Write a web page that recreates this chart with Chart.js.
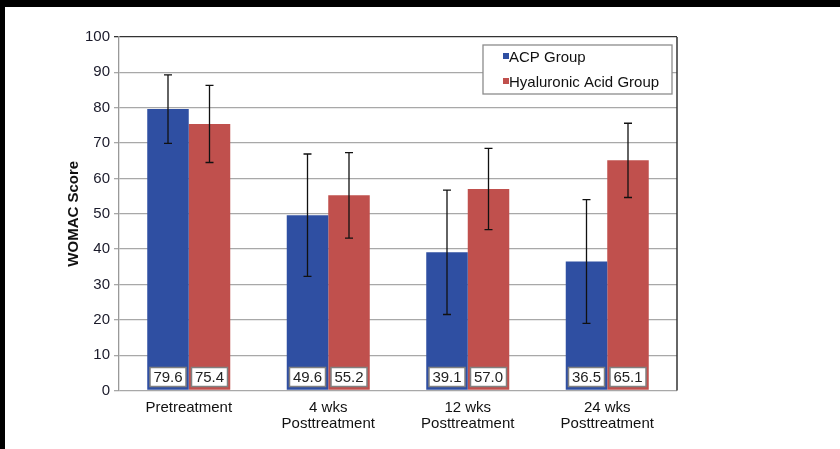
<!DOCTYPE html>
<html>
<head>
<meta charset="utf-8">
<script src="https://cdn.jsdelivr.net/npm/chart.js@4/dist/chart.umd.min.js"></script>
<style>
  html, body { margin: 0; padding: 0; background: #000; }
  #wrap { position: absolute; left: 5px; top: 7px; width: 835px; height: 442px; background: #fff; }
</style>
</head>
<body>
<div id="wrap"><canvas id="womac" width="835" height="442"></canvas></div>
<script>
// данные графика
const categories = ['Pretreatment', ['4 wks', 'Posttreatment'], ['12 wks', 'Posttreatment'], ['24 wks', 'Posttreatment']];
const seriesNames = ['ACP Group', 'Hyaluronic Acid Group'];
const acpScores = [79.6, 49.6, 39.1, 36.5];
const haScores = [75.4, 55.2, 57.0, 65.1];
const acpSd = [9.7, 17.3, 17.6, 17.5]; // разброс (усы)
const haSd = [10.9, 12.1, 11.5, 10.5];
const yTicks = [0, 10, 20, 30, 40, 50, 60, 70, 80, 90, 100];

const colBlue = '#2f4fa2';
const colRed = '#c0504d';
const fontFam = '"Liberation Sans", Arial, sans-serif';

/** усы, подписи в рамках, легенда и правая рамка */
const extras = {
  id: 'extras',
  afterDatasetsDraw(chart) {
    const { ctx, chartArea, scales } = chart;
    const sds = [acpSd, haSd];
    ctx.save();
    // правая линия рамки
    ctx.strokeStyle = '#333';
    ctx.lineWidth = 1.5;
    ctx.beginPath();
    ctx.moveTo(chartArea.right, chartArea.top);
    ctx.lineTo(chartArea.right, chartArea.bottom);
    ctx.stroke();

    chart.data.datasets.forEach((ds, i) => {
      const meta = chart.getDatasetMeta(i);
      meta.data.forEach((bar, j) => {
        const v = ds.data[j];
        const sd = sds[i][j];
        const yTop = scales.y.getPixelForValue(v + sd);
        const yBot = scales.y.getPixelForValue(v - sd);
        ctx.strokeStyle = '#111';
        ctx.lineWidth = 1.3;
        ctx.beginPath();
        ctx.moveTo(bar.x, yTop);
        ctx.lineTo(bar.x, yBot);
        ctx.moveTo(bar.x - 4, yTop);
        ctx.lineTo(bar.x + 4, yTop);
        ctx.moveTo(bar.x - 4, yBot);
        ctx.lineTo(bar.x + 4, yBot);
        ctx.stroke();

        // подпись значения в рамке внизу столбца
        const bw = 36;
        const bh = 19;
        const cy = scales.y.getPixelForValue(0) - 13.5;
        ctx.fillStyle = '#fff';
        ctx.fillRect(bar.x - bw / 2, cy - bh / 2, bw, bh);
        ctx.strokeStyle = '#808080';
        ctx.lineWidth = 1.5;
        ctx.strokeRect(bar.x - bw / 2, cy - bh / 2, bw, bh);
        ctx.fillStyle = '#222';
        ctx.font = '15px ' + fontFam;
        ctx.textAlign = 'center';
        ctx.textBaseline = 'middle';
        ctx.fillText(v.toFixed(1), bar.x, cy + 1);
      });
    });

    // легенда
    const lx = 478;
    const ly = 38;
    ctx.fillStyle = '#fff';
    ctx.fillRect(lx, ly, 189, 49);
    ctx.strokeStyle = '#8c8c8c';
    ctx.lineWidth = 1.3;
    ctx.strokeRect(lx, ly, 189, 49);
    chart.data.datasets.forEach((ds, i) => {
      const ty = ly + 12 + i * 25;
      ctx.fillStyle = ds.backgroundColor;
      ctx.fillRect(lx + 20, ty - 4, 6, 6);
      ctx.fillStyle = '#111';
      ctx.font = '15px ' + fontFam;
      ctx.textAlign = 'left';
      ctx.textBaseline = 'middle';
      ctx.fillText(ds.label, lx + 26, ty + 1);
    });
    ctx.restore();
  },
};

const womacChart = new Chart(document.getElementById('womac'), {
  type: 'bar',
  data: {
    labels: categories,
    datasets: [
      { label: seriesNames[0], data: acpScores, backgroundColor: colBlue },
      { label: seriesNames[1], data: haScores, backgroundColor: colRed },
    ],
  },
  options: {
    responsive: false,
    animation: false,
    layout: { padding: { left: 0, top: 30, right: 163, bottom: 0 } },
    datasets: { bar: { categoryPercentage: 0.595, barPercentage: 1 } },
    plugins: { legend: { display: false }, tooltip: { enabled: false } },
    scales: {
      x: {
        grid: { display: false, drawTicks: false },
        border: { display: false },
        ticks: { color: '#111', font: { family: fontFam, size: 15, lineHeight: 1.1 }, padding: 9, maxRotation: 0 },
        afterFit: (scale) => { scale.height = 58.5; },
      },
      y: {
        min: 0,
        max: 100,
        afterBuildTicks: (scale) => { scale.ticks = yTicks.map((v) => ({ value: v })); },
        grid: {
          color: (c) => (c.tick && c.tick.value === 100 ? '#333' : '#a8a8a8'),
          lineWidth: 1.3,
          tickLength: 5,
        },
        border: { color: '#999', width: 1.3 },
        ticks: { color: '#1a1a2a', font: { family: fontFam, size: 15 }, padding: 4 },
        title: {
          display: true,
          text: 'WOMAC Score',
          color: '#111',
          font: { family: fontFam, size: 15, weight: 'bold' },
          padding: { top: 60, bottom: 0 },
        },
        afterFit: (scale) => { scale.width = 114; },
      },
    },
  },
  plugins: [extras],
});
</script>
</body>
</html>
